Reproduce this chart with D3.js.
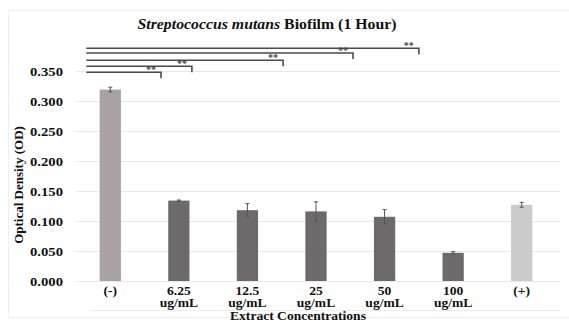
<!DOCTYPE html>
<html lang="en">
<head>
<meta charset="utf-8">
<title>S. mutans biofilm</title>
<script src="https://cdn.jsdelivr.net/npm/d3@7"></script>
<style>
  body { margin: 0; background: #fff; }
  text { font-family: "Liberation Serif", "DejaVu Serif", serif; font-weight: bold; fill: #111; }
  .grid line { stroke: #e8e8e8; stroke-width: 1; }
  .grid path { display: none; }
</style>
</head>
<body>
<svg id="chart" width="569" height="322"></svg>
<script>
// data
var categories = ["(-)", "6.25", "12.5", "25", "50", "100", "(+)"];
var units = ["", "ug/mL", "ug/mL", "ug/mL", "ug/mL", "ug/mL", ""];
var means = [0.319, 0.134, 0.118, 0.116, 0.107, 0.047, 0.127];
var errors = [0.004, 0.001, 0.011, 0.016, 0.012, 0.002, 0.004];
var barColors = ["#aaa1a5", "#6e696a", "#6e696a", "#6e696a", "#6e696a", "#6e696a", "#cbcbcb"];
var yTicks = [0, 0.05, 0.1, 0.15, 0.2, 0.25, 0.3, 0.35];
// significance brackets: right end (category index) and height (OD units)
var bracketEnds = [0.74, 1.19, 2.52, 3.54, 4.5];
var bracketLevels = [0.348, 0.358, 0.368, 0.38, 0.388];
var bracketStart = -0.35;

var svg = d3.select("#chart");
var W = +svg.attr("width"), H = +svg.attr("height");
var SX = 1.13; // the original text is a bit stretched sideways

// horizontal text with a small sideways stretch
function label(g, tx, ty, str, size, anchor) {
  return g.append("text")
    .attr("transform", "translate(" + tx + "," + ty + ") scale(" + SX + ",1)")
    .attr("text-anchor", anchor || "middle")
    .style("font-size", size + "px")
    .text(str);
}

// faint outer frame
svg.append("rect")
  .attr("x", 8.5).attr("y", 10.5)
  .attr("width", W).attr("height", 307)
  .attr("fill", "none").attr("stroke", "#efefef");

var x = d3.scaleBand()
  .domain(categories)
  .range([76, 556])
  .paddingInner(0.69)
  .paddingOuter(0.345);

var y = d3.scaleLinear()
  .domain([0, 0.35])
  .range([281, 71]);

var xIdx = d3.scaleLinear()
  .domain([0, categories.length - 1])
  .range([x(categories[0]) + x.bandwidth() / 2, x(categories[categories.length - 1]) + x.bandwidth() / 2]);

// gridlines
svg.append("g")
  .attr("class", "grid")
  .attr("transform", "translate(76,0)")
  .call(d3.axisRight(y).tickValues(yTicks).tickSize(484).tickFormat(""));

// y tick labels
var yl = svg.append("g");
yTicks.forEach(function(t) {
  label(yl, 63, y(t) + 4.5, d3.format(".3f")(t), 13, "end");
});

// bars
svg.append("g")
  .selectAll("rect")
  .data(means)
  .enter()
  .append("rect")
  .attr("x", function(d, i) { return x(categories[i]); })
  .attr("y", function(d) { return y(d); })
  .attr("width", x.bandwidth())
  .attr("height", function(d) { return y(0) - y(d); })
  .attr("fill", function(d, i) { return barColors[i]; });

// error bars
var eb = svg.append("g").attr("stroke", "#555").attr("stroke-width", 1);
means.forEach(function(m, i) {
  var cx = x(categories[i]) + x.bandwidth() / 2;
  eb.append("line")
    .attr("x1", cx).attr("x2", cx)
    .attr("y1", y(m - errors[i])).attr("y2", y(m + errors[i]));
  eb.append("line")
    .attr("x1", cx - 2).attr("x2", cx + 2)
    .attr("y1", y(m + errors[i])).attr("y2", y(m + errors[i]));
  eb.append("line")
    .attr("x1", cx - 2).attr("x2", cx + 2)
    .attr("y1", y(m - errors[i])).attr("y2", y(m - errors[i]));
});

// x labels
var xl = svg.append("g");
categories.forEach(function(c, i) {
  var cx = x(c) + x.bandwidth() / 2;
  label(xl, cx, 295, c, 12);
  if (units[i]) label(xl, cx, 307, units[i], 12);
});

// faint line below labels
svg.append("line")
  .attr("x1", 90).attr("x2", 560)
  .attr("y1", 310.5).attr("y2", 310.5)
  .attr("stroke", "#ececec");

// significance brackets
var br = svg.append("g").attr("stroke", "#4a4a4a").attr("stroke-width", 1.6).attr("fill", "none");
bracketEnds.forEach(function(e, i) {
  var yy = y(bracketLevels[i]);
  br.append("path")
    .attr("d", "M" + xIdx(bracketStart) + "," + yy + "H" + xIdx(e) + "V" + (yy + 6));
  svg.append("text")
    .attr("x", xIdx(e) - 10).attr("y", yy + 1)
    .attr("text-anchor", "middle")
    .style("font-size", "10px")
    .style("fill", "#444")
    .text("**");
});

// title
var title = label(svg, 267, 29, "", 14);
title.append("tspan").style("font-style", "italic").text("Streptococcus mutans");
title.append("tspan").text(" Biofilm (1 Hour)");

// axis titles
svg.append("text")
  .attr("transform", "translate(23,185) rotate(-90)")
  .attr("text-anchor", "middle")
  .style("font-size", "13px")
  .text("Optical Density (OD)");

label(svg, 298, 320, "Extract Concentrations", 12);
</script>
</body>
</html>
